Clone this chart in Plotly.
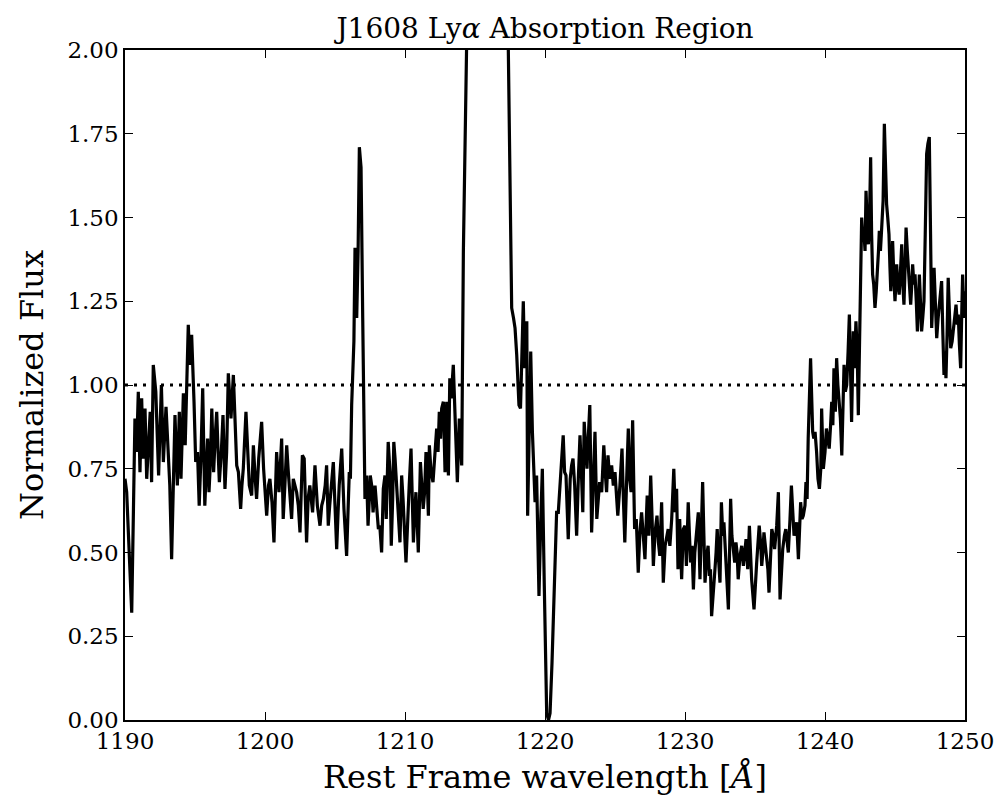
import plotly.graph_objects as go

# Rest-frame wavelength [Å]
wavelength = [
    1190.00, 1190.12, 1190.30, 1190.48, 1190.60, 1190.71, 1190.83, 1190.95, 1191.07, 1191.19,
    1191.30, 1191.43, 1191.55, 1191.68, 1191.80, 1191.90, 1192.02, 1192.20, 1192.40, 1192.60,
    1192.74, 1192.93, 1193.10, 1193.20, 1193.33, 1193.45, 1193.57, 1193.74, 1193.88, 1194.00,
    1194.17, 1194.30, 1194.42, 1194.52, 1194.64, 1194.76, 1194.93, 1195.05, 1195.18, 1195.30,
    1195.42, 1195.55, 1195.70, 1195.80, 1195.90, 1196.00, 1196.10, 1196.20, 1196.33, 1196.45,
    1196.55, 1196.65, 1196.74, 1196.88, 1197.00, 1197.14, 1197.26, 1197.38, 1197.50, 1197.57,
    1197.74, 1197.86, 1197.98, 1198.10, 1198.26, 1198.35, 1198.45, 1198.64, 1198.76, 1198.88,
    1199.05, 1199.17, 1199.30, 1199.40, 1199.55, 1199.76, 1199.90, 1200.12, 1200.25, 1200.35,
    1200.50, 1200.64, 1200.83, 1200.92, 1201.00, 1201.19, 1201.30, 1201.42, 1201.55, 1201.65,
    1201.74, 1201.90, 1202.02, 1202.14, 1202.26, 1202.38, 1202.50, 1202.67, 1202.80, 1202.97,
    1203.08, 1203.20, 1203.30, 1203.40, 1203.57, 1203.66, 1203.74, 1203.93, 1204.05, 1204.17,
    1204.30, 1204.40, 1204.52, 1204.62, 1204.70, 1204.88, 1205.00, 1205.12, 1205.22, 1205.30,
    1205.48, 1205.56, 1205.64, 1205.83, 1205.93, 1206.02, 1206.10, 1206.19, 1206.35, 1206.43,
    1206.55, 1206.65, 1206.74, 1206.86, 1206.98, 1207.06, 1207.14, 1207.26, 1207.36, 1207.45,
    1207.52, 1207.62, 1207.72, 1207.86, 1207.98, 1208.10, 1208.20, 1208.33, 1208.45, 1208.57,
    1208.66, 1208.80, 1208.93, 1209.02, 1209.12, 1209.20, 1209.29, 1209.40, 1209.52, 1209.64,
    1209.76, 1209.86, 1210.07, 1210.20, 1210.30, 1210.43, 1210.52, 1210.60, 1210.70, 1210.78,
    1210.88, 1210.95, 1211.10, 1211.20, 1211.30, 1211.40, 1211.50, 1211.60, 1211.67, 1211.74,
    1211.86, 1212.00, 1212.12, 1212.26, 1212.36, 1212.45, 1212.54, 1212.62, 1212.74, 1212.86,
    1212.98, 1213.10, 1213.20, 1213.30, 1213.45, 1213.57, 1213.74, 1213.88, 1214.05, 1214.17,
    1214.29, 1214.50, 1215.00, 1215.50, 1216.00, 1216.50, 1217.00, 1217.38, 1217.50, 1217.57,
    1217.62, 1217.75, 1217.86, 1217.98, 1218.08, 1218.14, 1218.25, 1218.35, 1218.45, 1218.55,
    1218.70, 1218.76, 1218.88, 1218.98, 1219.10, 1219.20, 1219.29, 1219.40, 1219.57, 1219.70,
    1219.81, 1219.95, 1220.12, 1220.25, 1220.36, 1220.50, 1220.70, 1220.83, 1220.95, 1221.10,
    1221.30, 1221.40, 1221.50, 1221.66, 1221.80, 1221.90, 1222.00, 1222.12, 1222.26, 1222.38,
    1222.50, 1222.60, 1222.70, 1222.80, 1222.90, 1223.00, 1223.10, 1223.20, 1223.33, 1223.45,
    1223.57, 1223.70, 1223.80, 1223.90, 1224.05, 1224.20, 1224.30, 1224.40, 1224.50, 1224.62,
    1224.76, 1224.88, 1225.00, 1225.10, 1225.20, 1225.35, 1225.50, 1225.60, 1225.70, 1225.82,
    1225.95, 1226.05, 1226.15, 1226.26, 1226.40, 1226.52, 1226.66, 1226.78, 1226.90, 1227.02,
    1227.14, 1227.22, 1227.30, 1227.42, 1227.55, 1227.65, 1227.74, 1227.86, 1228.00, 1228.10,
    1228.20, 1228.33, 1228.45, 1228.58, 1228.70, 1228.80, 1228.92, 1229.05, 1229.20, 1229.30,
    1229.40, 1229.50, 1229.62, 1229.76, 1229.88, 1230.00, 1230.10, 1230.23, 1230.32, 1230.40,
    1230.50, 1230.60, 1230.70, 1230.80, 1230.95, 1231.07, 1231.16, 1231.26, 1231.35, 1231.43,
    1231.55, 1231.65, 1231.74, 1231.82, 1231.90, 1232.02, 1232.14, 1232.22, 1232.30, 1232.40,
    1232.50, 1232.60, 1232.70, 1232.78, 1232.88, 1232.97, 1233.10, 1233.26, 1233.35, 1233.45,
    1233.55, 1233.64, 1233.72, 1233.80, 1233.93, 1234.05, 1234.17, 1234.27, 1234.36, 1234.48,
    1234.60, 1234.68, 1234.76, 1234.93, 1235.02, 1235.12, 1235.20, 1235.30, 1235.40, 1235.48,
    1235.56, 1235.64, 1235.74, 1235.83, 1235.92, 1236.00, 1236.10, 1236.20, 1236.30, 1236.40,
    1236.55, 1236.67, 1236.79, 1236.90, 1236.98, 1237.10, 1237.20, 1237.30, 1237.38, 1237.50,
    1237.60, 1237.70, 1237.79, 1237.90, 1237.98, 1238.10, 1238.18, 1238.26, 1238.36, 1238.45,
    1238.57, 1238.64, 1238.72, 1238.80, 1238.97, 1239.05, 1239.12, 1239.20, 1239.29, 1239.40,
    1239.50, 1239.60, 1239.70, 1239.76, 1239.88, 1240.00, 1240.10, 1240.20, 1240.30, 1240.40,
    1240.48, 1240.56, 1240.64, 1240.74, 1240.83, 1240.92, 1241.00, 1241.10, 1241.20, 1241.28,
    1241.36, 1241.45, 1241.55, 1241.65, 1241.74, 1241.82, 1241.90, 1242.02, 1242.10, 1242.21,
    1242.30, 1242.38, 1242.50, 1242.56, 1242.62, 1242.70, 1242.79, 1242.86, 1242.93, 1243.02,
    1243.10, 1243.18, 1243.26, 1243.33, 1243.40, 1243.48, 1243.57, 1243.66, 1243.74, 1243.82,
    1243.88, 1243.96, 1244.05, 1244.15, 1244.24, 1244.32, 1244.40, 1244.48, 1244.57, 1244.64,
    1244.70, 1244.76, 1244.83, 1244.92, 1245.00, 1245.06, 1245.12, 1245.20, 1245.30, 1245.38,
    1245.48, 1245.56, 1245.64, 1245.72, 1245.79, 1245.88, 1245.95, 1246.04, 1246.12, 1246.20,
    1246.26, 1246.35, 1246.43, 1246.52, 1246.60, 1246.68, 1246.74, 1246.82, 1246.90, 1246.98,
    1247.07, 1247.16, 1247.26, 1247.35, 1247.45, 1247.54, 1247.62, 1247.70, 1247.79, 1247.88,
    1247.98, 1248.08, 1248.17, 1248.25, 1248.33, 1248.42, 1248.50, 1248.57, 1248.64, 1248.72,
    1248.80, 1248.90, 1248.98, 1249.08, 1249.17, 1249.26, 1249.36, 1249.45, 1249.52, 1249.60,
    1249.69, 1249.76, 1249.83, 1249.93, 1250.00,
]

# Normalized flux
flux = [
    0.72, 0.68, 0.50, 0.32, 0.62, 0.90, 0.80, 0.98, 0.74, 0.96,
    0.78, 0.93, 0.72, 0.85, 0.92, 0.71, 1.06, 0.98, 0.73, 1.00,
    0.77, 0.935, 0.80, 0.70, 0.48, 0.70, 0.91, 0.70, 0.92, 0.72,
    0.975, 0.82, 1.02, 1.18, 1.06, 1.15, 0.95, 0.77, 0.80, 0.64,
    0.78, 0.99, 0.64, 0.76, 0.84, 0.68, 0.77, 0.93, 0.74, 0.85,
    0.92, 0.80, 0.71, 0.80, 0.91, 0.69, 0.80, 1.035, 0.95, 0.90,
    1.03, 0.90, 0.76, 0.74, 0.63, 0.70, 0.75, 0.92, 0.80, 0.70,
    0.67, 0.82, 0.72, 0.66, 0.78, 0.89, 0.75, 0.61, 0.70, 0.72,
    0.65, 0.53, 0.80, 0.72, 0.68, 0.84, 0.60, 0.70, 0.82, 0.75,
    0.70, 0.60, 0.72, 0.70, 0.68, 0.64, 0.56, 0.79, 0.78, 0.53,
    0.66, 0.70, 0.66, 0.62, 0.76, 0.68, 0.64, 0.58, 0.64, 0.66,
    0.70, 0.76, 0.58, 0.64, 0.68, 0.77, 0.64, 0.51, 0.62, 0.70,
    0.81, 0.70, 0.63, 0.49, 0.62, 0.74, 0.72, 0.94, 1.13, 1.41,
    1.20, 1.40, 1.71, 1.65, 1.20, 0.90, 0.66, 0.73, 0.58, 0.66,
    0.73, 0.70, 0.62, 0.70, 0.62, 0.57, 0.58, 0.50, 0.69, 0.73,
    0.60, 0.83, 0.74, 0.52, 0.66, 0.83, 0.78, 0.69, 0.62, 0.53,
    0.73, 0.66, 0.47, 0.62, 0.70, 0.81, 0.66, 0.53, 0.62, 0.68,
    0.58, 0.50, 0.77, 0.70, 0.63, 0.68, 0.80, 0.70, 0.61, 0.82,
    0.74, 0.71, 0.78, 0.87, 0.80, 0.92, 0.84, 0.93, 0.95, 0.74,
    0.95, 0.73, 1.02, 0.96, 1.06, 0.91, 0.71, 0.90, 0.76, 1.40,
    2.00, 2.80, 3.60, 4.00, 3.90, 3.40, 2.80, 2.00, 1.55, 1.47,
    1.23, 1.20, 1.17, 1.09, 1.00, 0.94, 0.93, 1.10, 1.25, 1.05,
    1.19, 0.61, 0.90, 1.10, 0.86, 0.72, 0.65, 0.73, 0.37, 0.60,
    0.75, 0.40, 0.02, 0.00, 0.02, 0.17, 0.45, 0.62, 0.62, 0.72,
    0.85, 0.74, 0.73, 0.54, 0.72, 0.76, 0.78, 0.70, 0.55, 0.72,
    0.85, 0.74, 0.62, 0.89, 0.80, 0.75, 0.85, 0.94, 0.56, 0.72,
    0.86, 0.60, 0.66, 0.71, 0.68, 0.82, 0.74, 0.68, 0.79, 0.72,
    0.76, 0.70, 0.74, 0.66, 0.61, 0.70, 0.81, 0.66, 0.53, 0.70,
    0.87, 0.72, 0.68, 0.895, 0.57, 0.60, 0.44, 0.56, 0.62, 0.55,
    0.48, 0.58, 0.67, 0.55, 0.73, 0.60, 0.46, 0.56, 0.61, 0.53,
    0.49, 0.65, 0.41, 0.52, 0.55, 0.57, 0.52, 0.60, 0.75, 0.62,
    0.69, 0.45, 0.60, 0.42, 0.57, 0.58, 0.46, 0.65, 0.55, 0.47,
    0.52, 0.39, 0.50, 0.54, 0.62, 0.42, 0.55, 0.71, 0.55, 0.41,
    0.49, 0.52, 0.43, 0.45, 0.31, 0.40, 0.45, 0.50, 0.57, 0.48,
    0.41, 0.65, 0.55, 0.59, 0.50, 0.43, 0.33, 0.66, 0.55, 0.51,
    0.47, 0.53, 0.50, 0.42, 0.49, 0.52, 0.46, 0.50, 0.54, 0.45,
    0.58, 0.50, 0.42, 0.33, 0.42, 0.47, 0.52, 0.58, 0.53, 0.46,
    0.50, 0.56, 0.52, 0.49, 0.45, 0.38, 0.48, 0.57, 0.55, 0.51,
    0.58, 0.68, 0.36, 0.45, 0.51, 0.55, 0.57, 0.53, 0.50, 0.60,
    0.70, 0.62, 0.55, 0.57, 0.59, 0.48, 0.56, 0.65, 0.60, 0.61,
    0.64, 0.71, 0.66, 0.84, 1.08, 0.90, 0.86, 0.84, 0.86, 0.80,
    0.72, 0.69, 0.75, 0.93, 0.75, 0.80, 0.87, 0.84, 0.81, 0.88,
    0.95, 0.88, 1.05, 0.92, 1.08, 1.00, 0.96, 0.90, 0.79, 0.95,
    1.06, 0.98, 1.00, 1.10, 1.21, 1.05, 0.89, 1.16, 1.05, 1.19,
    1.10, 0.91, 1.26, 1.38, 1.50, 1.44, 1.45, 1.40, 1.58, 1.48,
    1.42, 1.50, 1.68, 1.45, 1.33, 1.30, 1.23, 1.28, 1.33, 1.40,
    1.46, 1.40, 1.47, 1.55, 1.78, 1.60, 1.54, 1.50, 1.45, 1.35,
    1.28, 1.34, 1.43, 1.32, 1.25, 1.30, 1.36, 1.30, 1.27, 1.33,
    1.42, 1.30, 1.24, 1.35, 1.47, 1.40, 1.35, 1.30, 1.24, 1.30,
    1.36, 1.30, 1.33, 1.25, 1.16, 1.25, 1.33, 1.25, 1.16, 1.20,
    1.25, 1.45, 1.69, 1.72, 1.74, 1.45, 1.17, 1.25, 1.35, 1.25,
    1.14, 1.20, 1.25, 1.28, 1.31, 1.15, 1.03, 1.10, 1.02, 1.15,
    1.32, 1.20, 1.11, 1.13, 1.16, 1.20, 1.24, 1.18, 1.21, 1.12,
    1.05, 1.20, 1.33, 1.20, 1.28,
]

x_ticks = [1190, 1200, 1210, 1220, 1230, 1240, 1250]
y_ticks = [0.00, 0.25, 0.50, 0.75, 1.00, 1.25, 1.50, 1.75, 2.00]
continuum_level = 1.0

FONT = "DejaVu Serif"

fig = go.Figure()
fig.add_trace(go.Scatter(
    x=wavelength, y=flux, mode="lines",
    line=dict(color="black", width=3.2),
    showlegend=False, hoverinfo="skip",
))

fig.add_shape(
    type="line", xref="x domain", yref="y",
    x0=0, x1=1, y0=continuum_level, y1=continuum_level,
    line=dict(color="black", width=3, dash="3px,6px"),
    layer="above",
)

axis_common = dict(
    showline=True, linecolor="black", linewidth=1.5, mirror="ticks",
    ticks="inside", ticklen=8, tickwidth=1.3, tickcolor="black",
    showgrid=False, zeroline=False, automargin=False,
    tickfont=dict(family=FONT, size=23, color="black"),
)

fig.update_layout(
    width=999, height=801,
    margin=dict(l=125, r=34, t=50, b=81),
    paper_bgcolor="white", plot_bgcolor="white",
    title=dict(
        text="J1608 Ly<i>α</i> Absorption Region",
        font=dict(family=FONT, size=28, color="black"),
        x=(125 + 965) / 2 / 999, xanchor="center",
        y=1 - 28 / 801, yanchor="middle", yref="container",
    ),
    xaxis=dict(
        range=[1190, 1250], tickvals=x_ticks,
        title=dict(text="Rest Frame wavelength [<i>Å</i>]",
                   font=dict(family=FONT, size=32, color="black"), standoff=12),
        **axis_common,
    ),
    yaxis=dict(
        range=[0, 2], tickvals=y_ticks, tickformat=".2f",
        title=dict(text="Normalized Flux",
                   font=dict(family=FONT, size=32, color="black"), standoff=14),
        **axis_common,
    ),
)

fig.write_html("out.html")
